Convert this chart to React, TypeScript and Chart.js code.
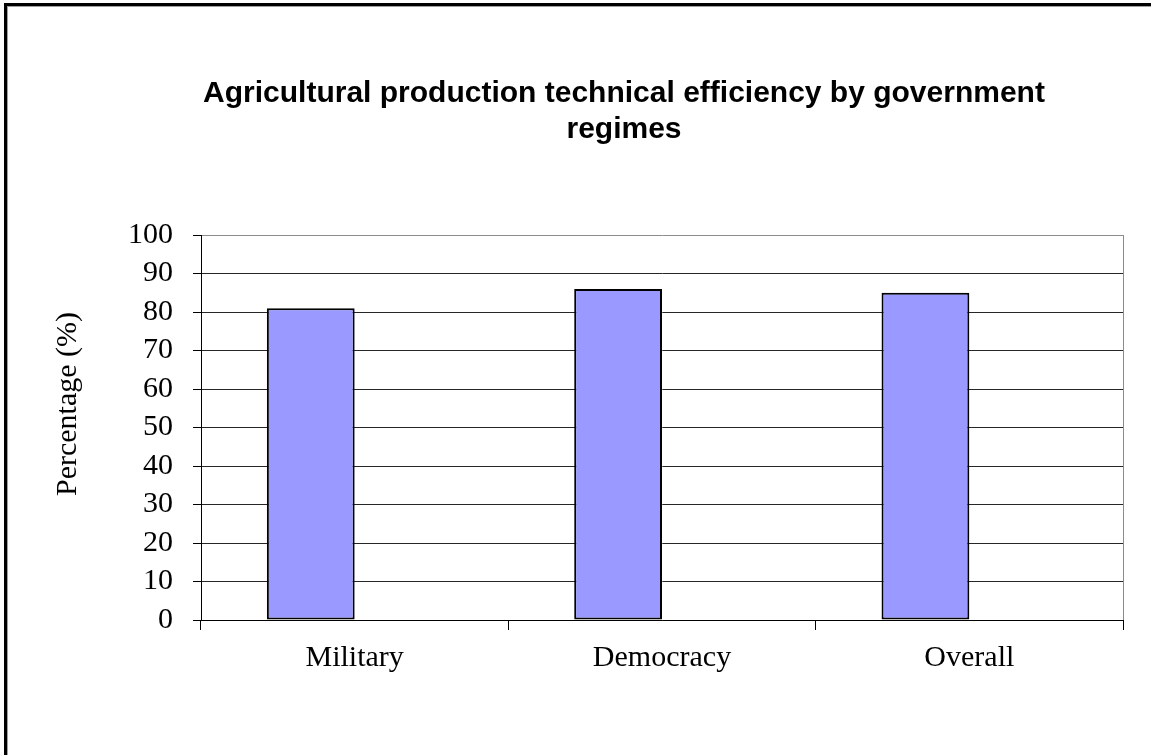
import React, { useEffect, useRef } from "react";
import { Chart, registerables } from "chart.js";

Chart.register(...registerables);

// ---- data ----
const categories = ["Military", "Democracy", "Overall"];
const efficiencyValues = [81, 86, 85];
// Second (empty) series of the original clustered chart: it reserves the right half of each group
const emptySeriesValues: (number | null)[] = [null, null, null];
const yMin = 0;
const yMax = 100;
const yStep = 10;
const titleLines = [
  "Agricultural production technical efficiency by government",
  "regimes",
];
const yAxisTitle = "Percentage (%)";

const W = 1151;
const H = 755;

export default function App() {
  const ref = useRef<HTMLCanvasElement | null>(null);

  useEffect(() => {
    const canvas = ref.current;
    if (!canvas) return;

    const decor = {
      id: "decor",
      beforeDraw(chart: any) {
        const { ctx } = chart;
        ctx.save();
        ctx.fillStyle = "#ffffff";
        ctx.fillRect(0, 0, W, H);
        ctx.restore();
      },
      afterDraw(chart: any) {
        const { ctx, chartArea } = chart;
        ctx.save();
        // outer frame (top and left edges visible)
        ctx.fillStyle = "#000000";
        ctx.fillRect(4, 3, W - 4, 3);
        ctx.fillRect(4, 3, 3, H - 3);
        ctx.fillStyle = "#a0a0a0";
        ctx.fillRect(7, 6, W - 7, 1);
        ctx.fillRect(7, 6, 1, H - 6);

        // plot area right border (gray)
        ctx.strokeStyle = "#8c8c8c";
        ctx.lineWidth = 1;
        ctx.beginPath();
        ctx.moveTo(Math.round(chartArea.right) + 0.5, chartArea.top);
        ctx.lineTo(Math.round(chartArea.right) + 0.5, chartArea.bottom);
        ctx.stroke();

        // chart title
        ctx.fillStyle = "#000000";
        ctx.font = "bold 30px 'Liberation Sans', Arial, sans-serif";
        ctx.textAlign = "center";
        ctx.textBaseline = "alphabetic";
        ctx.fillText(titleLines[0], 624, 102);
        ctx.fillText(titleLines[1], 624, 138);

        // y axis title (rotated)
        ctx.font = "30px 'Liberation Serif', 'Times New Roman', serif";
        ctx.translate(76, 404);
        ctx.rotate(-Math.PI / 2);
        ctx.textAlign = "center";
        ctx.textBaseline = "alphabetic";
        ctx.fillText(yAxisTitle, 0, 0);
        ctx.restore();
      },
    };

    const serif = "'Liberation Serif', 'Times New Roman', serif";

    const chart = new Chart(canvas, {
      type: "bar",
      data: {
        labels: categories,
        datasets: [
          {
            label: "Technical efficiency",
            data: efficiencyValues,
            backgroundColor: "#9999FF",
            borderColor: "#000000",
            borderWidth: 2,
            borderSkipped: false,
            categoryPercentage: 0.5714,
            barPercentage: 1,
          },
          {
            label: "Series 2",
            data: emptySeriesValues as any,
            backgroundColor: "#993366",
            borderColor: "#000000",
            borderWidth: 2,
            categoryPercentage: 0.5714,
            barPercentage: 1,
          },
        ],
      },
      options: {
        responsive: false,
        maintainAspectRatio: false,
        animation: false,
        devicePixelRatio: 1,
        layout: { padding: { top: 235, right: 28, bottom: 0, left: 0 } },
        plugins: {
          legend: { display: false },
          tooltip: { enabled: false },
          title: { display: false },
        },
        scales: {
          x: {
            type: "category",
            offset: true,
            grid: {
              display: true,
              offset: true,
              drawOnChartArea: false,
              drawTicks: true,
              tickLength: 10,
              color: "#000000",
            },
            border: { display: true, color: "#000000", width: 1 },
            ticks: {
              color: "#000000",
              padding: 10,
              font: { family: serif, size: 30 },
              maxRotation: 0,
              autoSkip: false,
            },
            afterFit(scale: any) {
              scale.height = 135;
            },
          },
          y: {
            min: yMin,
            max: yMax,
            grid: {
              color: (c: any) =>
                c.tick && c.tick.value === yMax ? "#8c8c8c" : "#262626",
              tickColor: "#000000",
              tickLength: 8,
              drawTicks: true,
            },
            border: { display: true, color: "#000000", width: 1 },
            ticks: {
              stepSize: yStep,
              autoSkip: false,
              color: "#000000",
              padding: 20,
              font: { family: serif, size: 30 },
            },
            afterFit(scale: any) {
              scale.width = 201;
            },
          },
        },
      },
      plugins: [decor],
    });

    return () => {
      chart.destroy();
    };
  }, []);

  return (
    <div style={{ position: "absolute", left: 0, top: 0, width: W, height: H }}>
      <canvas ref={ref} width={W} height={H} style={{ display: "block", width: W, height: H }} />
    </div>
  );
}
